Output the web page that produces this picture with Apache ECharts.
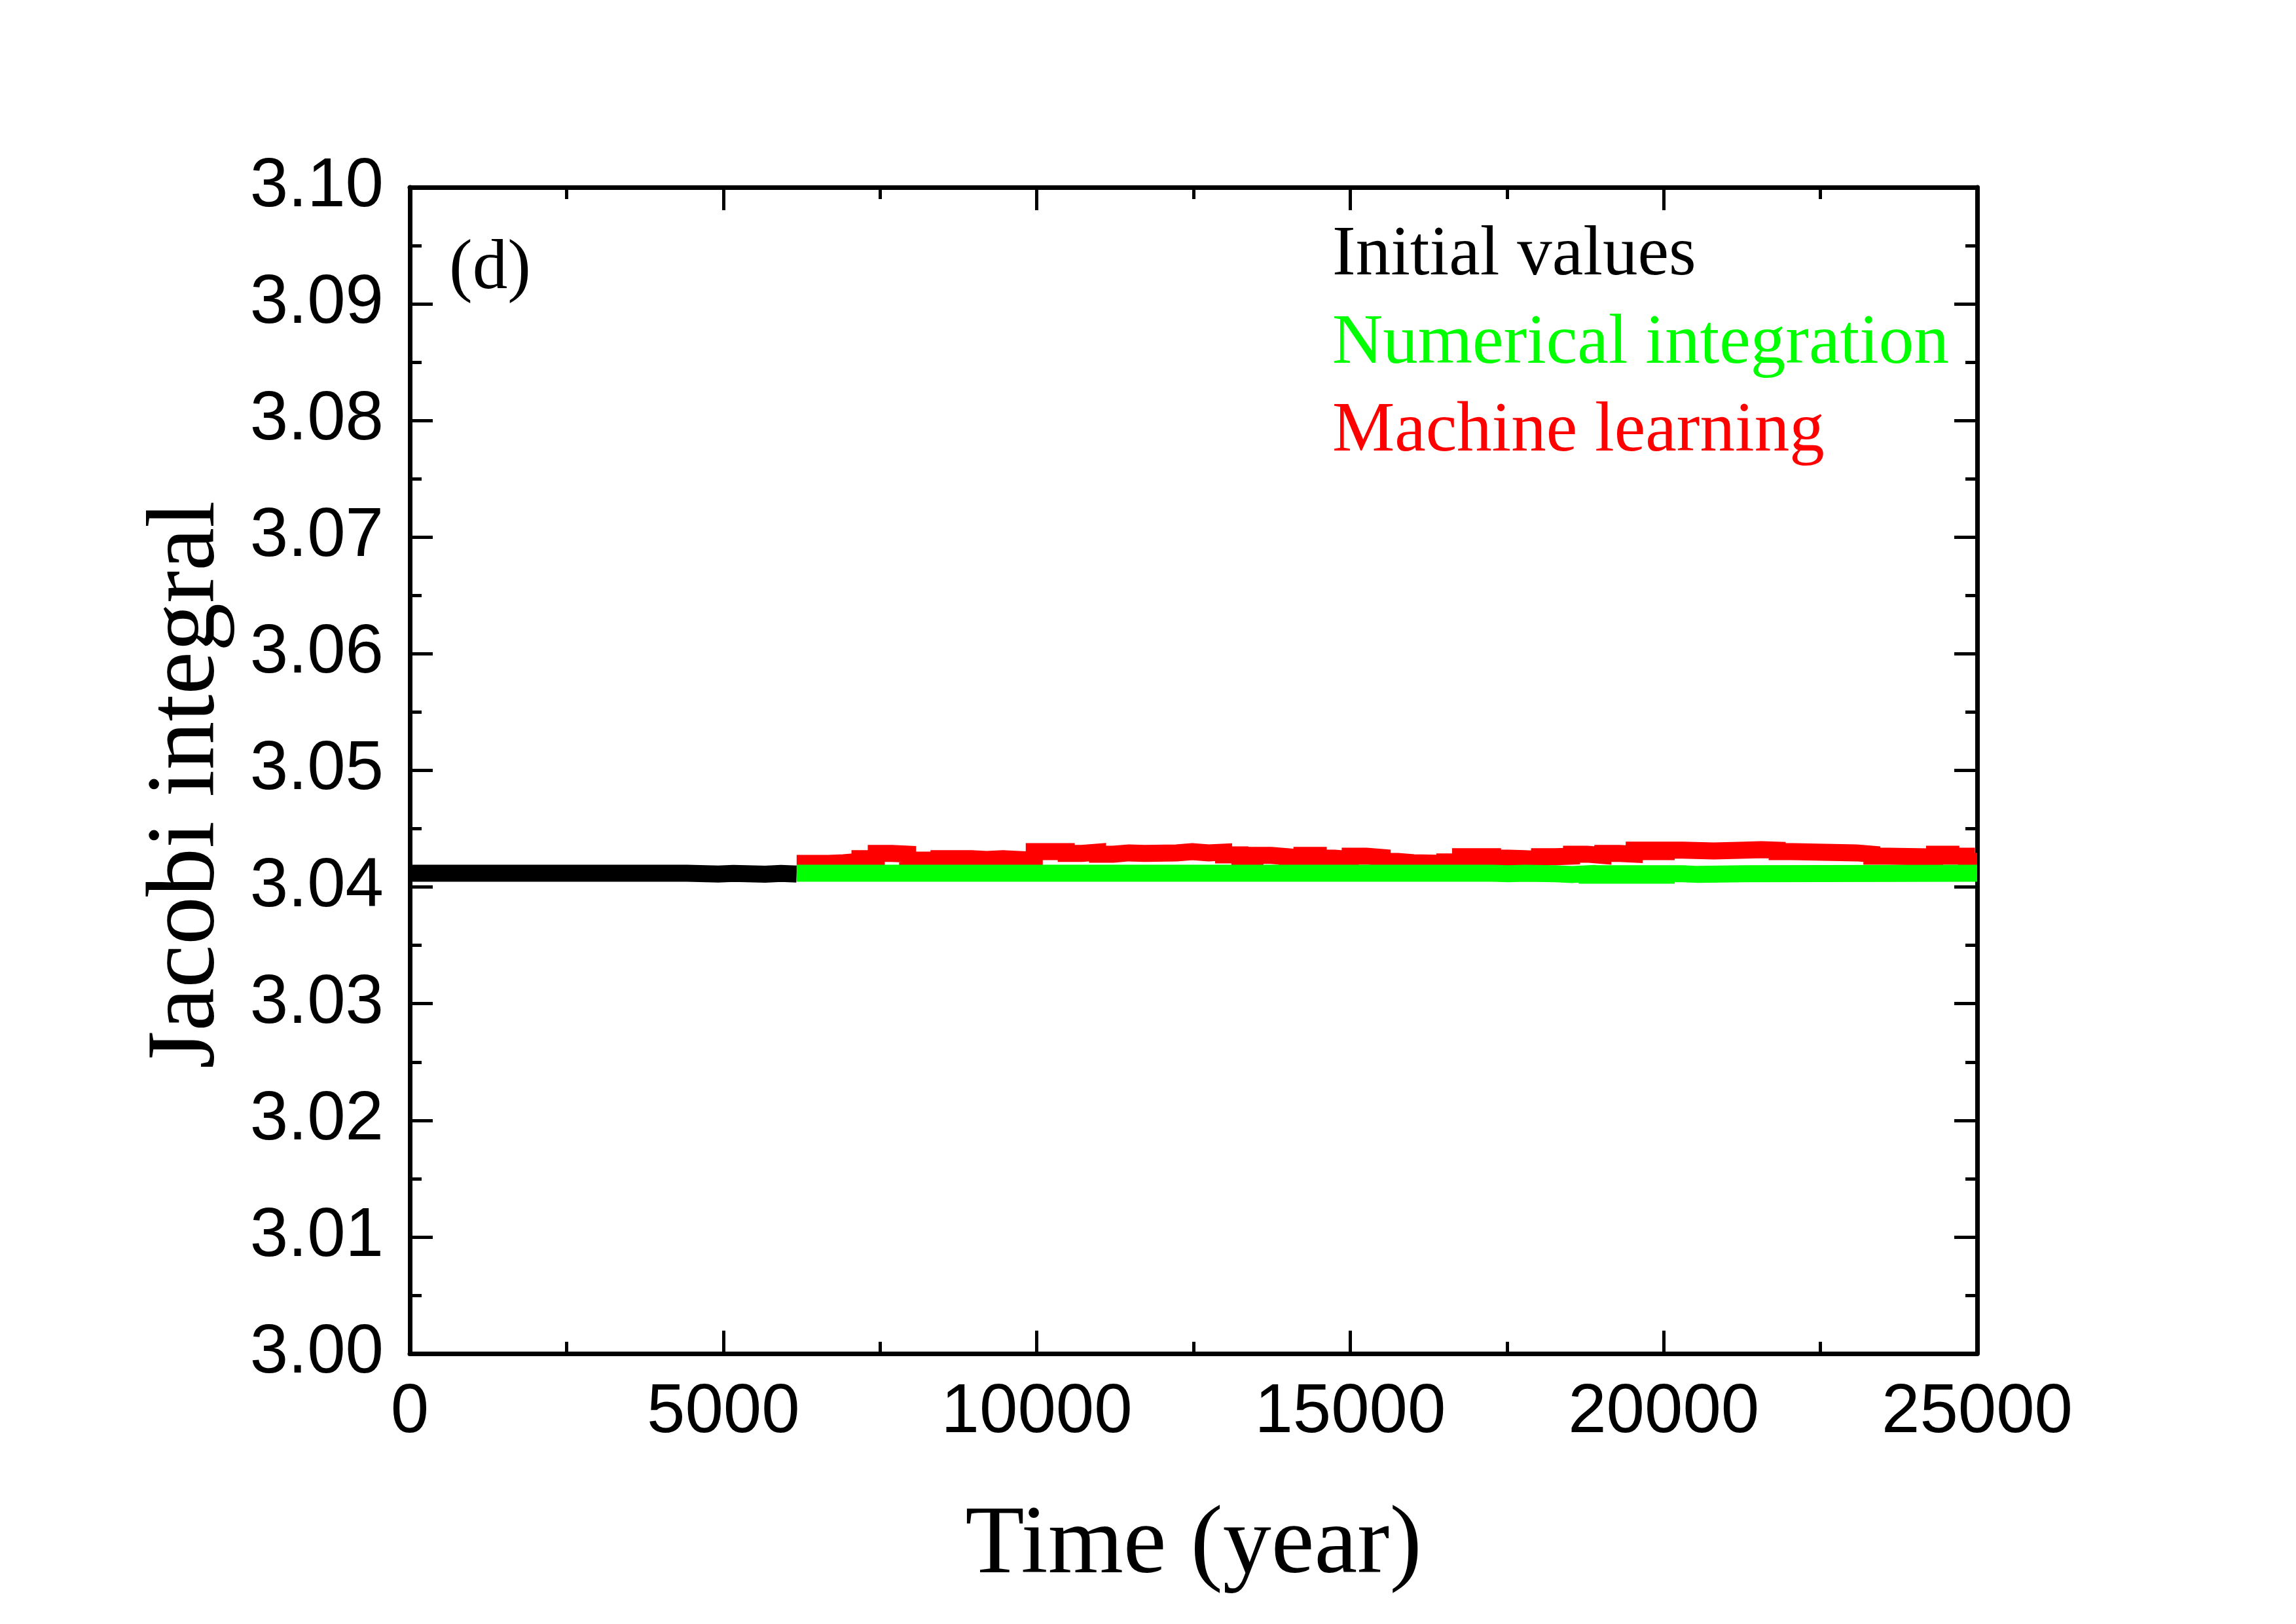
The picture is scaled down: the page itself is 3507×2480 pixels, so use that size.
<!DOCTYPE html>
<html>
<head>
<meta charset="utf-8">
<script src="https://cdn.jsdelivr.net/npm/echarts@6/dist/echarts.min.js"></script>
<style>
html,body{margin:0;padding:0;background:#fff;}
#chart{width:3507px;height:2480px;}
</style>
</head>
<body>
<div id="chart"></div>
<script>
// ---- data ----
const xTickLabels = ['0','5000','10000','15000','20000','25000'];
const yTickLabels = ['3.00','3.01','3.02','3.03','3.04','3.05','3.06','3.07','3.08','3.09','3.10'];

const blackTimes  = [0, 4420, 4920, 5160, 5670, 5920, 6170];
const blackValues = [3.04118, 3.04112, 3.04117, 3.04110, 3.04117, 3.04112, 3.04112];

const greenTimes  = [6170, 17270, 17520, 17780, 18270, 18530, 18780, 19030, 19290, 19530, 19790, 20040, 20300, 20550, 21300, 25000];
const greenValues = [3.04119, 3.04114, 3.04119, 3.04114, 3.04108, 3.04114, 3.04102, 3.04114, 3.04102, 3.04114, 3.04102, 3.04114, 3.04108, 3.04114, 3.04119, 3.04119];

const redTimes = [6170, 6680, 6920, 7180, 7440, 7690, 7940, 8440, 8960, 9200,
  9460, 9710, 9960, 10470, 10720, 10970, 11220, 11470, 11720, 12230,
  12480, 12740, 12980, 13240, 13480, 13740, 13990, 14230, 14490, 14750,
  15000, 15260, 15510, 15760, 16010, 16510, 16760, 17270, 17520, 17780,
  18020, 18270, 18530, 18780, 19030, 19290, 19530, 19790, 20040, 20300,
  20800, 21300, 21560, 21810, 22060, 23070, 23320, 23580, 24080, 24320,
  24580, 24830, 25000];
const redValues = [3.04203, 3.04209, 3.04220, 3.04243, 3.04288, 3.04282, 3.04231, 3.04243, 3.04237, 3.04243,
  3.04237, 3.04231, 3.04304, 3.04288, 3.04299, 3.04282, 3.04293, 3.04288, 3.04293, 3.04304,
  3.04293, 3.04299, 3.04276, 3.04254, 3.04271, 3.04260, 3.04248, 3.04271, 3.04248, 3.04237,
  3.04265, 3.04254, 3.04220, 3.04209, 3.04203, 3.04215, 3.04260, 3.04248, 3.04243, 3.04237,
  3.04260, 3.04265, 3.04282, 3.04271, 3.04288, 3.04282, 3.04316, 3.04304, 3.04316, 3.04310,
  3.04316, 3.04321, 3.04316, 3.04304, 3.04293, 3.04282, 3.04265, 3.04260, 3.04248, 3.04282,
  3.04265, 3.04220, 3.04220];

const seriesNames = ['Initial values', 'Numerical integration', 'Machine learning'];
const panelLabel = '(d)';

// ---- build ----
const zip = (t, v) => t.map((x, i) => [x, v[i]]);
const xMin = Number(xTickLabels[0]), xMax = Number(xTickLabels[xTickLabels.length-1]);
const yMin = Number(yTickLabels[0]), yMax = Number(yTickLabels[yTickLabels.length-1]);

const SANS = '"Liberation Sans", Arial, sans-serif';
const SERIF = '"Liberation Serif", "Times New Roman", serif';

function xAx(pos, show) {
  return {
    type: 'value', position: pos, min: xMin, max: xMax, interval: 5000,
    name: show ? 'Time (year)' : '', nameLocation: 'middle', nameGap: 221,
    nameTextStyle: {fontFamily: SERIF, fontSize: 148, color: '#000'},
    axisLine: {show: true, onZero: false, lineStyle: {color: '#000', width: 7}},
    axisTick: {show: true, inside: true, length: 35, lineStyle: {color: '#000', width: 5}},
    minorTick: {show: true, splitNumber: 2, length: 18, lineStyle: {color: '#000', width: 5}},
    splitLine: {show: false}, minorSplitLine: {show: false},
    axisLabel: {show: show, margin: 39, fontFamily: SANS, fontSize: 105, color: '#000',
      formatter: v => String(v), showMinLabel: true, showMaxLabel: true}
  };
}
function yAx(pos, show) {
  return {
    type: 'value', position: pos, min: yMin, max: yMax, interval: 0.01,
    name: show ? 'Jacobi integral' : '', nameLocation: 'middle', nameGap: 265, nameRotate: 90,
    nameTextStyle: {fontFamily: SERIF, fontSize: 148, color: '#000', padding: [0, 44, 0, 0]},
    axisLine: {show: true, onZero: false, lineStyle: {color: '#000', width: 7}},
    axisTick: {show: true, inside: true, length: 35, lineStyle: {color: '#000', width: 5}},
    minorTick: {show: true, splitNumber: 2, length: 18, lineStyle: {color: '#000', width: 5}},
    splitLine: {show: false}, minorSplitLine: {show: false},
    axisLabel: {show: show, margin: 40, fontFamily: SANS, fontSize: 105, color: '#000',
      formatter: v => v.toFixed(2), showMinLabel: true, showMaxLabel: true}
  };
}

const chart = echarts.init(document.getElementById('chart'), null, {renderer: 'canvas'});
const lineCommon = {type: 'line', step: 'end', showSymbol: false, symbol: 'none', animation: false,
  xAxisIndex: 0, yAxisIndex: 0};

chart.setOption({
  backgroundColor: '#fff',
  animation: false,
  grid: {left: 626, right: 487, top: 286, bottom: 413, containLabel: false},
  xAxis: [xAx('bottom', true), xAx('top', false)],
  yAxis: [yAx('left', true), yAx('right', false)],
  series: [
    Object.assign({}, lineCommon, {name: seriesNames[0], data: zip(blackTimes, blackValues), z: 3,
      lineStyle: {color: '#000000', width: 26, cap: 'butt', join: 'miter'}}),
    Object.assign({}, lineCommon, {name: seriesNames[2], data: zip(redTimes, redValues), z: 3,
      lineStyle: {color: '#ff0000', width: 26, cap: 'butt', join: 'miter'}}),
    Object.assign({}, lineCommon, {name: seriesNames[1], data: zip(greenTimes, greenValues), z: 4,
      lineStyle: {color: '#00ff00', width: 26, cap: 'butt', join: 'miter'}})
  ],
  graphic: [
    {type: 'text', x: 686, y: 358, style: {text: panelLabel, font: '107px ' + SERIF, fill: '#000', textAlign: 'left', textVerticalAlign: 'top'}},
    {type: 'text', x: 2035, y: 337, style: {text: seriesNames[0], font: '107px ' + SERIF, fill: '#000', textAlign: 'left', textVerticalAlign: 'top'}},
    {type: 'text', x: 2035, y: 472, style: {text: seriesNames[1], font: '107px ' + SERIF, fill: '#00ff00', textAlign: 'left', textVerticalAlign: 'top'}},
    {type: 'text', x: 2035, y: 606, style: {text: seriesNames[2], font: '107px ' + SERIF, fill: '#ff0000', textAlign: 'left', textVerticalAlign: 'top'}}
  ]
});
</script>
</body>
</html>
